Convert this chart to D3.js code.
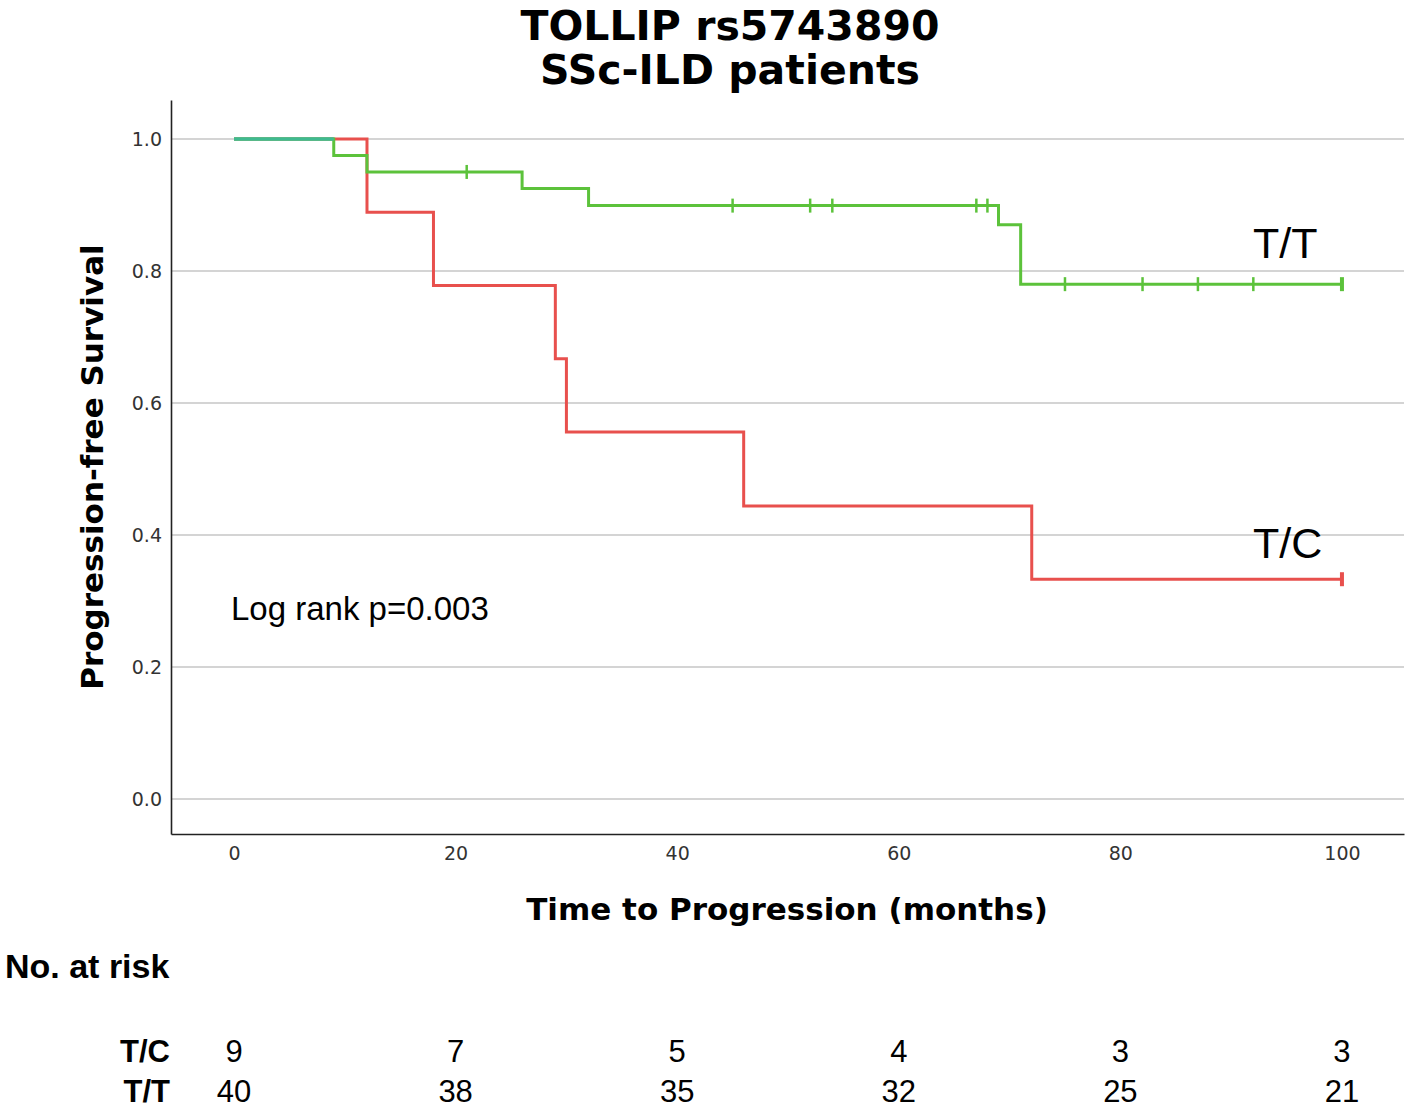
<!DOCTYPE html>
<html>
<head>
<meta charset="utf-8">
<script src="https://cdn.jsdelivr.net/npm/d3@7"></script>
<style>
  body { margin: 0; background: #fff; }
  svg { display: block; }
</style>
</head>
<body>
<div id="chart"></div>
<script>
// survival curves (months, survival)
const ttTimes = [0, 9, 12, 26, 32, 69, 71];
const ttSurv = [1.0, 0.975, 0.95, 0.925, 0.899, 0.87, 0.78];
const ttCensor = [21, 45, 52, 54, 67, 68, 75, 82, 87, 92, 100];
const ttEnd = 100;

const tcTimes = [0, 12, 18, 29, 30, 46, 72];
const tcSurv = [1.0, 0.889, 0.778, 0.667, 0.556, 0.444, 0.333];
const tcCensor = [100];
const tcEnd = 100;

const xTicks = [0, 20, 40, 60, 80, 100];
const yTicks = [0.0, 0.2, 0.4, 0.6, 0.8, 1.0];

// number at risk table
const riskTimes = [0, 20, 40, 60, 80, 100];
const riskTC = [9, 7, 5, 4, 3, 3];
const riskTT = [40, 38, 35, 32, 25, 21];

const W = 1410, H = 1111;
const plot = {left: 171, right: 1404, top: 100, bottom: 834};

const svg = d3.select("#chart").append("svg")
  .attr("width", W)
  .attr("height", H);

const x = d3.scaleLinear()
  .domain([-5.69, 105.6])
  .range([plot.left, plot.right]);

const y = d3.scaleLinear()
  .domain([-0.053, 1.059])
  .range([plot.bottom, plot.top]);

// gridlines
svg.append("g")
  .selectAll("line")
  .data(yTicks)
  .enter()
  .append("line")
  .attr("x1", plot.left)
  .attr("x2", plot.right)
  .attr("y1", d => y(d))
  .attr("y2", d => y(d))
  .attr("stroke", "#c6c6c6")
  .attr("stroke-width", 1.6);

// axes (SPSS style, no tick marks)
const yAxis = svg.append("g")
  .attr("transform", "translate(" + plot.left + ",0)")
  .call(d3.axisLeft(y).tickValues(yTicks).tickSize(0).tickPadding(9).tickFormat(d3.format(".1f")));
yAxis.select(".domain").attr("stroke", "#222").attr("stroke-width", 1.6);
yAxis.selectAll("text")
  .attr("font-family", "DejaVu Sans, sans-serif")
  .attr("font-size", "19px")
  .attr("fill", "#333");

const xAxis = svg.append("g")
  .attr("transform", "translate(0," + plot.bottom + ")")
  .call(d3.axisBottom(x).tickValues(xTicks).tickSize(0).tickPadding(13));
xAxis.select(".domain").attr("stroke", "#222").attr("stroke-width", 1.6);
xAxis.selectAll("text")
  .attr("font-family", "DejaVu Sans, sans-serif")
  .attr("font-size", "19px")
  .attr("fill", "#333");

// step path builder
function stepPoints(times, surv, end) {
  let pts = times.map((t, i) => [t, surv[i]]);
  pts.push([end, surv[surv.length - 1]]);
  return pts;
}

const line = d3.line()
  .x(d => x(d[0]))
  .y(d => y(d[1]))
  .curve(d3.curveStepAfter);

function survAt(times, surv, t) {
  let s = surv[0];
  for (let i = 0; i < times.length; i++) {
    if (times[i] <= t) s = surv[i];
  }
  return s;
}

function drawCurve(times, surv, end, censor, color) {
  svg.append("path")
    .datum(stepPoints(times, surv, end))
    .attr("d", line)
    .attr("fill", "none")
    .attr("stroke", color)
    .attr("stroke-width", 3);

  svg.append("g")
    .selectAll("line")
    .data(censor)
    .enter()
    .append("line")
    .attr("x1", d => x(d))
    .attr("x2", d => x(d))
    .attr("y1", d => y(survAt(times, surv, d)) - 7)
    .attr("y2", d => y(survAt(times, surv, d)) + 7)
    .attr("stroke", color)
    .attr("stroke-width", d => d === end ? 4 : 2.5);
}

drawCurve(tcTimes, tcSurv, tcEnd, tcCensor, "#e8504d");
drawCurve(ttTimes, ttSurv, ttEnd, ttCensor, "#5cc23b");

// where both groups are still at 1.0 the two lines blend to teal
const overlapEnd = Math.min(ttTimes[1], tcTimes[1]);
svg.append("line")
  .attr("x1", x(0))
  .attr("x2", x(overlapEnd))
  .attr("y1", y(1))
  .attr("y2", y(1))
  .attr("stroke", "#3fba90")
  .attr("stroke-width", 3.4);

// titles
const title = svg.append("text")
  .attr("text-anchor", "middle")
  .attr("font-family", "DejaVu Sans, sans-serif")
  .attr("font-weight", "bold")
  .attr("font-size", "41px")
  .attr("fill", "#000");
title.append("tspan").attr("x", 730).attr("y", 40).text("TOLLIP rs5743890");
title.append("tspan").attr("x", 730).attr("y", 84).text("SSc-ILD patients");

svg.append("text")
  .attr("transform", "translate(103," + 467 + ") rotate(-90)")
  .attr("text-anchor", "middle")
  .attr("font-family", "DejaVu Sans, sans-serif")
  .attr("font-weight", "bold")
  .attr("font-size", "31px")
  .text("Progression-free Survival");

svg.append("text")
  .attr("x", 787)
  .attr("y", 920)
  .attr("text-anchor", "middle")
  .attr("font-family", "DejaVu Sans, sans-serif")
  .attr("font-weight", "bold")
  .attr("font-size", "31px")
  .text("Time to Progression (months)");

// annotations
svg.append("text")
  .attr("x", 231)
  .attr("y", 620)
  .attr("font-family", "Liberation Sans, Arial, sans-serif")
  .attr("font-size", "33px")
  .text("Log rank p=0.003");

svg.append("text")
  .attr("x", 1253)
  .attr("y", 258)
  .attr("font-family", "Liberation Sans, Arial, sans-serif")
  .attr("font-size", "43px")
  .text("T/T");

svg.append("text")
  .attr("x", 1253)
  .attr("y", 558)
  .attr("font-family", "Liberation Sans, Arial, sans-serif")
  .attr("font-size", "43px")
  .text("T/C");

// number at risk
svg.append("text")
  .attr("x", 5)
  .attr("y", 978)
  .attr("font-family", "Liberation Sans, Arial, sans-serif")
  .attr("font-weight", "bold")
  .attr("font-size", "34px")
  .text("No. at risk");

const rows = [["T/C", riskTC, 1062], ["T/T", riskTT, 1102]];
rows.forEach(r => {
  svg.append("text")
    .attr("x", 170)
    .attr("y", r[2])
    .attr("text-anchor", "end")
    .attr("font-family", "Liberation Sans, Arial, sans-serif")
    .attr("font-weight", "bold")
    .attr("font-size", "31px")
    .text(r[0]);

  svg.append("g")
    .selectAll("text")
    .data(r[1])
    .enter()
    .append("text")
    .attr("x", (d, i) => x(riskTimes[i]))
    .attr("y", r[2])
    .attr("text-anchor", "middle")
    .attr("font-family", "Liberation Sans, Arial, sans-serif")
    .attr("font-size", "31px")
    .text(d => d);
});
</script>
</body>
</html>
